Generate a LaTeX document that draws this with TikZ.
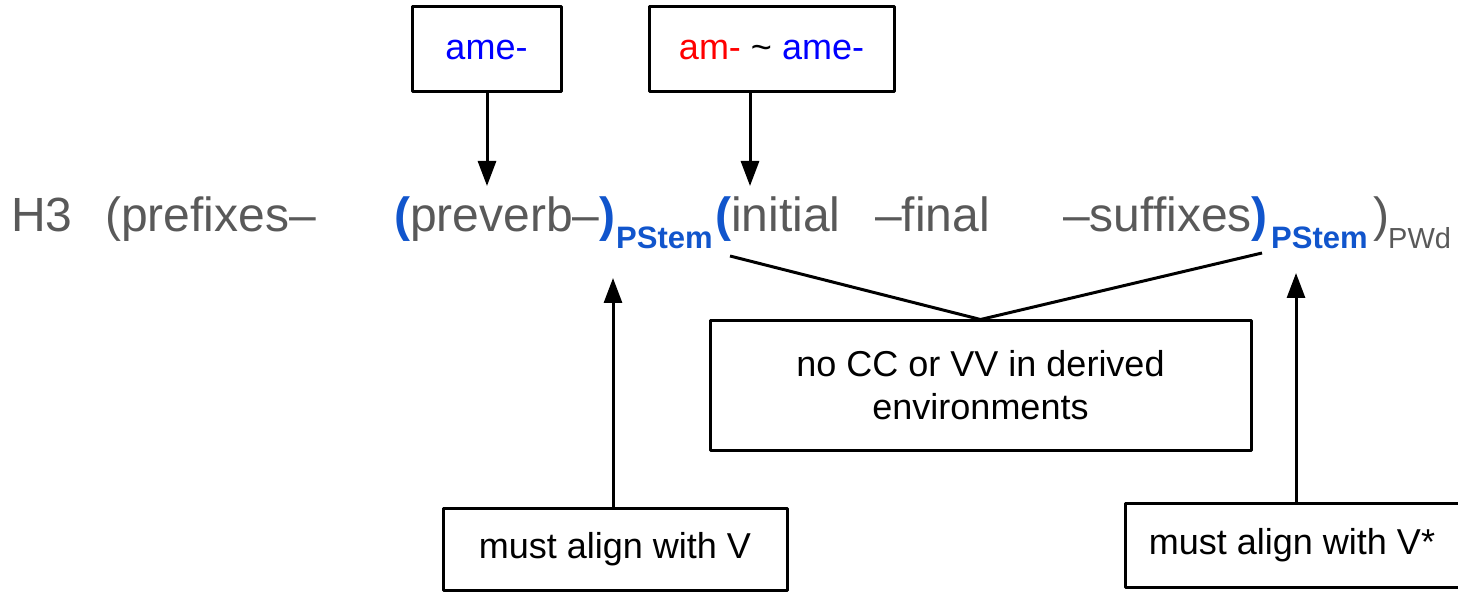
\documentclass[tikz,border=0pt]{standalone}
\usepackage{fontspec}
\setmainfont{Liberation Sans}
\usetikzlibrary{arrows.meta}
\definecolor{txtgray}{HTML}{595959}
\definecolor{stemblue}{HTML}{1155CC}
\definecolor{boxblue}{HTML}{0000FF}
\definecolor{boxred}{HTML}{FF0000}
\begin{document}
\begin{tikzpicture}[x=1pt,y=-1pt,
  box/.style={draw=black,line width=3pt,line join=round,inner sep=0pt,align=center,
    font=\fontsize{36}{43}\selectfont},
  word/.style={anchor=base west,inner sep=0pt,text=txtgray,font=\fontsize{48}{58}\selectfont},
  sub/.style={anchor=base west,inner sep=0pt,text=stemblue,font=\fontsize{31}{36}\selectfont\bfseries},
  arr/.style={line width=3pt,-{Triangle[length=25pt,width=18pt]}},
  conn/.style={line width=3pt}]
\useasboundingbox (0,0) rectangle (1458,593);

% top boxes
\node[box,minimum width=149pt,minimum height=85pt,text=boxblue] (b1) at (486.5,49.5) {ame-};
\node[box,minimum width=245pt,minimum height=85pt] (b2) at (771.5,49.5)
  {\textcolor{boxred}{am-} \textcolor{black}{\textasciitilde} \textcolor{boxblue}{ame-}};

% main line
\node[word] (h3) at (11,232) {H3};
\node[word] (pre) at (105,232) {(prefixes–};
\node[word] (pv) at (394,232) {\textcolor{stemblue}{\bfseries(}preverb–\textcolor{stemblue}{\bfseries)}};
\node[sub] (ps1) at (616,249) {PStem};
\node[word] (ini) at (715,232) {\textcolor{stemblue}{\bfseries(}initial};
\node[word] (fin) at (875,232) {–final};
\node[word] (suf) at (1063,232) {–suffixes\textcolor{stemblue}{\bfseries)}};
\node[sub] (ps2) at (1271,249) {PStem};
\node[word] (cl) at (1373,232) {)};
\node[word,font=\fontsize{29}{34}\selectfont] (pwd) at (1388,249) {PWd};

% lower boxes
\node[box,minimum width=541pt,minimum height=129pt] (mid) at (980.5,385.5)
  {no CC or VV in derived\\environments};
\node[box,minimum width=344pt,minimum height=82pt] (bV) at (615,549) {must align with V};
\node[box,minimum width=360pt,minimum height=84pt] (bVs) at (1305,545)
  {must align with V*\hspace{26pt}};

% connectors
\coordinate (t1) at (487,186);
\coordinate (t2) at (750,186);
\draw[arr] (b1.south -| t1) -- (t1);
\draw[arr] (b2.south -| t2) -- (t2);

\coordinate (l1) at (730,256);
\coordinate (l2) at (1262,253);
\draw[conn] (l1) -- (mid.north) -- (l2);

\coordinate (u1) at (613,278);
\coordinate (u2) at (1296,273);
\draw[arr] (bV.north -| u1) -- (u1);
\draw[arr] (bVs.north -| u2) -- (u2);
\end{tikzpicture}
\end{document}
